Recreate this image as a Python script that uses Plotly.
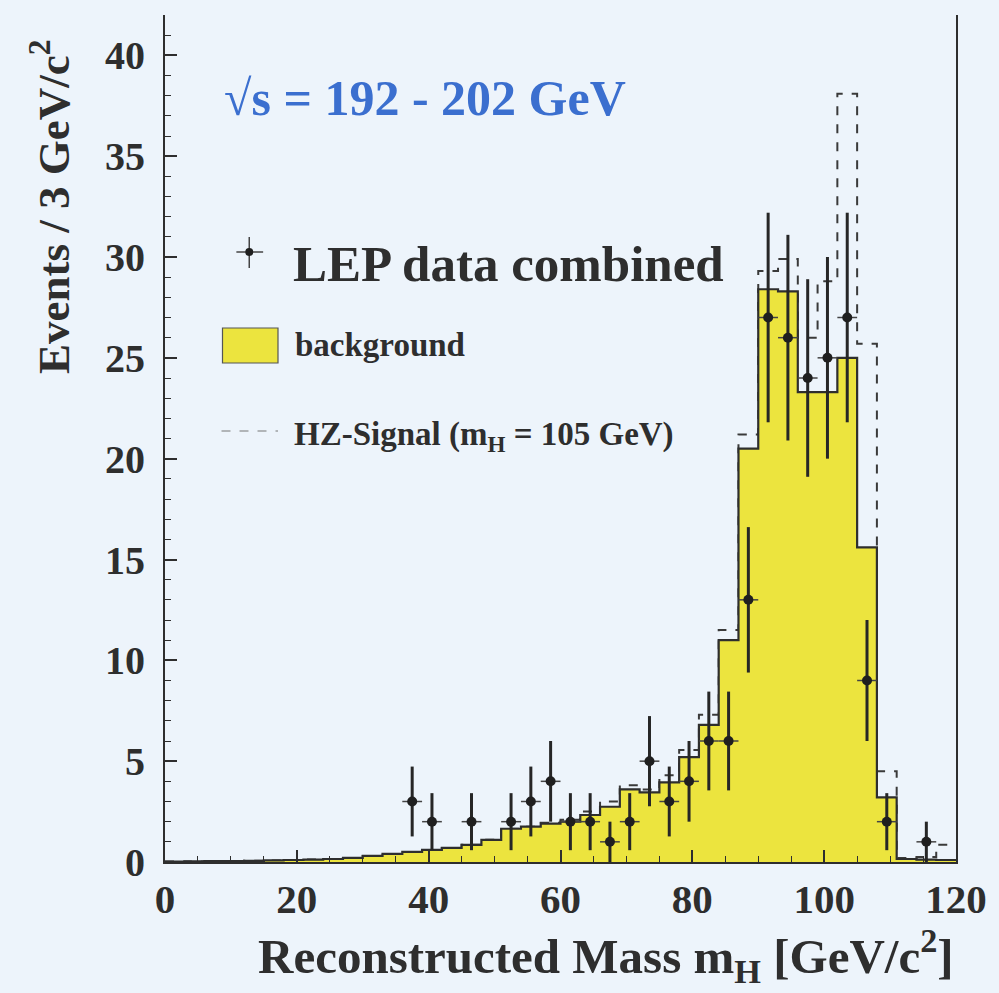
import numpy as np
import plotly.graph_objects as go

# ---- data ----
bin_edges = list(range(0, 123, 3))  # 0..120, 3 GeV bins
background = [0.02, 0.03, 0.04, 0.05, 0.06, 0.08, 0.10, 0.12, 0.15, 0.20,
              0.30, 0.40, 0.50, 0.60, 0.70, 0.85, 1.10, 1.65, 1.75, 1.90,
              2.00, 2.33, 2.74, 3.60, 3.45, 3.95, 5.20, 6.80, 11.0, 20.5,
              28.4, 28.3, 23.3, 23.3, 25.0, 15.6, 3.2, 0.15, 0.12, 0.10]
signal_total = [0.02, 0.03, 0.04, 0.05, 0.06, 0.08, 0.10, 0.12, 0.15, 0.20,
                0.30, 0.40, 0.50, 0.60, 0.70, 0.85, 1.10, 1.65, 1.75, 1.95,
                2.10, 2.50, 3.00, 3.80, 3.60, 4.30, 5.55, 7.30, 11.5, 21.2,
                29.3, 29.9, 26.0, 28.8, 38.1, 25.7, 4.5, 0.20, 0.25, 0.85]
data_x = [37.5, 40.5, 46.5, 52.5, 55.5, 58.5, 61.5, 64.5, 67.5, 70.5, 73.5, 76.5,
          79.5, 82.5, 85.5, 88.5, 91.5, 94.5, 97.5, 100.5, 103.5, 106.5, 109.5, 115.5]
data_n = [3, 2, 2, 2, 3, 4, 2, 2, 1, 2, 5, 3,
          4, 6, 6, 13, 27, 26, 24, 25, 27, 9, 2, 1]
x_ticks = [0, 20, 40, 60, 80, 100, 120]
y_ticks = [0, 5, 10, 15, 20, 25, 30, 35, 40]

BG = "#edf4fb"
YEL = "#ece43e"
DARK = "#2e2e2e"
BLUE = "#3b6fcf"
FONT = "Liberation Serif"

fig = go.Figure()

step_x = bin_edges
sig_y = signal_total + [signal_total[-1]]
bg_y = background + [background[-1]]

fig.add_trace(go.Scatter(x=step_x, y=sig_y, mode="lines", line_shape="hv",
                         line=dict(color="#3a3a3a", width=2, dash="dash"),
                         showlegend=False, hoverinfo="skip"))
fig.add_trace(go.Scatter(x=step_x, y=bg_y, mode="lines", line_shape="hv",
                         fill="tozeroy", fillcolor=YEL,
                         line=dict(color=DARK, width=2.2),
                         showlegend=False, hoverinfo="skip"))
fig.add_trace(go.Scatter(x=data_x, y=data_n, mode="markers",
                         marker=dict(color="#1f1f1f", size=10, symbol="circle"),
                         error_y=dict(type="data", array=list(np.sqrt(data_n)),
                                      color="#262626", thickness=3, width=0),
                         error_x=dict(type="constant", value=1.5,
                                      color="#444444", thickness=1.5, width=0),
                         showlegend=False, hoverinfo="skip"))

W, H = 999, 993
L, R, T, B = 165, 36, 15, 131
pw, ph = W - L - R, H - T - B

def px(xp):
    return (xp - L) / pw

def py(yp):
    return (H - B - yp) / ph

anns = []
anns.append(dict(text="√s = 192 - 202 GeV", x=px(222), y=py(98), xref="paper", yref="paper",
                 xanchor="left", yanchor="middle", showarrow=False,
                 font=dict(family=FONT, size=50, color=BLUE, weight="bold")))
anns.append(dict(text="LEP data combined", x=px(292), y=py(264), xref="paper", yref="paper",
                 xanchor="left", yanchor="middle", showarrow=False,
                 font=dict(family=FONT, size=51, color=DARK, weight="bold")))
anns.append(dict(text="background", x=px(294), y=py(345), xref="paper", yref="paper",
                 xanchor="left", yanchor="middle", showarrow=False,
                 font=dict(family=FONT, size=33, color=DARK, weight="bold")))
anns.append(dict(text="HZ-Signal (m<sub>H</sub> = 105 GeV)", x=px(293), y=py(436), xref="paper", yref="paper",
                 xanchor="left", yanchor="middle", showarrow=False,
                 font=dict(family=FONT, size=33, color=DARK, weight="bold")))
anns.append(dict(text="Reconstructed Mass m<sub>H</sub> [GeV/c<sup>2</sup>]", x=px(610), y=py(955),
                 xref="paper", yref="paper", xanchor="center", yanchor="middle", showarrow=False,
                 font=dict(family=FONT, size=49, color=DARK, weight="bold")))
anns.append(dict(text="Events / 3 GeV/c<sup>2</sup>", x=px(50), y=py(207), xref="paper", yref="paper",
                 xanchor="center", yanchor="middle", showarrow=False, textangle=-90,
                 font=dict(family=FONT, size=45, color=DARK, weight="bold")))

shapes = []
# legend: data cross
shapes.append(dict(type="line", xref="paper", yref="paper", x0=px(250), x1=px(250), y0=py(237), y1=py(268),
                   line=dict(color="#444", width=1.5)))
shapes.append(dict(type="line", xref="paper", yref="paper", x0=px(237), x1=px(264), y0=py(252), y1=py(252),
                   line=dict(color="#444", width=1.5)))
shapes.append(dict(type="circle", xref="paper", yref="paper", x0=px(246), x1=px(254), y0=py(256), y1=py(248),
                   fillcolor="#1f1f1f", line=dict(color="#1f1f1f", width=0)))
# legend: yellow box
shapes.append(dict(type="rect", xref="paper", yref="paper", x0=px(223), x1=px(279), y0=py(363), y1=py(328),
                   fillcolor=YEL, line=dict(color="#555", width=1.2)))
# legend: dashed line
shapes.append(dict(type="line", xref="paper", yref="paper", x0=px(222), x1=px(279), y0=py(431), y1=py(431),
                   line=dict(color="#777", width=1.2, dash="dash")))

fig.update_layout(
    width=W, height=H,
    margin=dict(l=L, r=R, t=T, b=B),
    paper_bgcolor=BG, plot_bgcolor=BG,
    annotations=anns, shapes=shapes,
    showlegend=False,
)
fig.update_xaxes(range=[0, 120], tickvals=x_ticks, ticktext=[str(v) for v in x_ticks],
                 ticks="inside", ticklen=12, tickwidth=1.5, tickcolor=DARK,
                 minor=dict(dtick=5, ticks="inside", ticklen=6, tickcolor=DARK, tickwidth=1),
                 showline=True, linecolor=DARK, linewidth=2, showgrid=False, zeroline=False,
                 tickfont=dict(family=FONT, size=41, color=DARK, weight="bold"))
fig.update_yaxes(range=[0, 42], tickvals=y_ticks, ticktext=[str(v) for v in y_ticks],
                 ticks="inside", ticklen=12, tickwidth=1.5, tickcolor=DARK,
                 minor=dict(dtick=1, ticks="inside", ticklen=6, tickcolor=DARK, tickwidth=1),
                 showline=True, mirror=True, linecolor=DARK, linewidth=2, showgrid=False, zeroline=False,
                 ticklabelstandoff=10,
                 tickfont=dict(family=FONT, size=40, color=DARK, weight="bold"))

fig.write_html("out.html")
